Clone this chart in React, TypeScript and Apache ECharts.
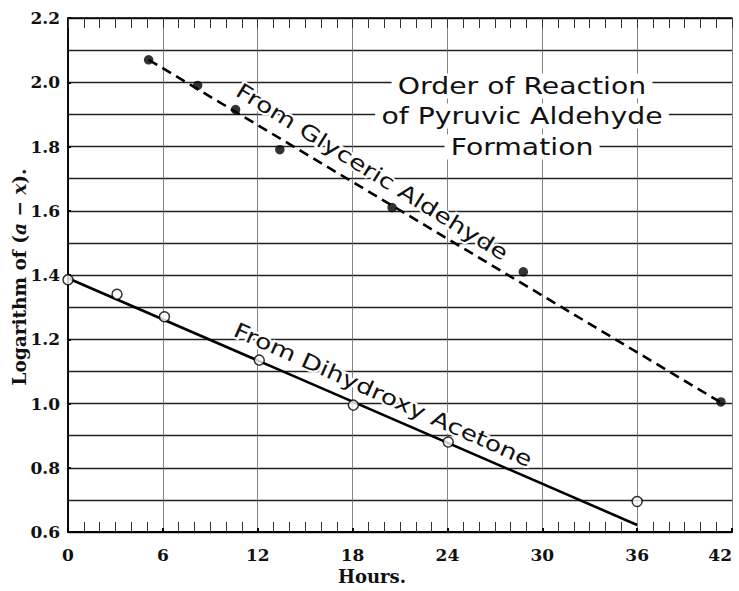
import React, { useEffect, useRef } from "react";
import * as echarts from "echarts";

const xTicks = [0, 6, 12, 18, 24, 30, 36, 42];
const yTicks = [0.6, 0.8, 1.0, 1.2, 1.4, 1.6, 1.8, 2.0, 2.2];

const glycericHours = [5.1, 8.2, 10.6, 13.4, 20.5, 28.8, 41.3];
const glycericLog = [2.07, 1.99, 1.915, 1.79, 1.61, 1.41, 1.005];
const glycericFitHours = [5.1, 41.3];
const glycericFitLog = [2.07, 1.003];

const dihydroxyHours = [0, 3.1, 6.1, 12.1, 18.05, 24.05, 36.0];
const dihydroxyLog = [1.385, 1.34, 1.27, 1.135, 0.995, 0.88, 0.695];
const dihydroxyFitHours = [0, 36];
const dihydroxyFitLog = [1.39, 0.622];

const titleLines = ["Order of Reaction", "of Pyruvic Aldehyde", "Formation"];
const glycericLabel = "From Glyceric Aldehyde";
const dihydroxyLabel = "From Dihydroxy Acetone";

const zip = (a: number[], b: number[]) => a.map((v, i) => [v, b[i]]);

export default function App() {
  const ref = useRef<HTMLDivElement>(null);
  useEffect(() => {
    if (!ref.current) return;
    const chart = echarts.init(ref.current, undefined, { renderer: "svg" });
    const serif = "DejaVu Serif";
    const letter = "DejaVu Sans";
    const titleStyle = (text: string) => ({
      text,
      fill: "#111",
      font: `23px "${letter}"`,
      align: "center",
      verticalAlign: "middle",
      backgroundColor: "#fff",
      padding: [1, 5, 1, 5],
    });
    chart.setOption({
      animation: false,
      backgroundColor: "#fff",
      grid: { left: 68, right: 7, top: 18, bottom: 59, outerBoundsMode: "none", containLabel: false },
      xAxis: [
        {
          type: "value",
          min: 0,
          max: 42,
          interval: 6,
          axisLine: { show: true, lineStyle: { color: "#000", width: 2 } },
          axisTick: { show: true, inside: true, length: 4, lineStyle: { color: "#000", width: 2 } },
          minorTick: { show: true, splitNumber: 6, length: 10, lineStyle: { color: "#333", width: 1 } },
          axisLabel: {
            margin: 14,
            fontFamily: serif,
            fontSize: 17,
            fontWeight: "bold",
            color: "#111",
            alignMaxLabel: "right",
            formatter: (v: number) => (xTicks.includes(v) ? String(v) : ""),
          },
          splitLine: { show: true, lineStyle: { color: "#666", width: 0.8 } },
        },
        {
          type: "value",
          position: "top",
          min: 0,
          max: 42,
          interval: 6,
          axisLine: { show: true, lineStyle: { color: "#000", width: 1.5 } },
          axisTick: { show: true, inside: true, length: 10, lineStyle: { color: "#333", width: 1 } },
          minorTick: { show: true, splitNumber: 6, length: 10, lineStyle: { color: "#333", width: 1 } },
          axisLabel: { show: false },
          splitLine: { show: false },
        },
      ],
      yAxis: [
        {
          type: "value",
          min: 0.6,
          max: 2.2,
          interval: 0.2,
          axisLine: { show: true, lineStyle: { color: "#000", width: 1.5 } },
          axisTick: { show: true, inside: true, length: 3, lineStyle: { color: "#000", width: 2 } },
          minorTick: { show: false, splitNumber: 2 },
          axisLabel: {
            margin: 8,
            fontFamily: serif,
            fontSize: 17,
            fontWeight: "bold",
            color: "#111",
            formatter: (v: number) => {
              const t = yTicks.find((y) => Math.abs(y - v) < 1e-6);
              return t === undefined ? "" : t.toFixed(1);
            },
          },
          splitLine: { show: true, lineStyle: { color: "#222", width: 1.3 } },
          minorSplitLine: { show: true, lineStyle: { color: "#222", width: 1.3 } },
        },
        {
          type: "value",
          position: "right",
          min: 0.6,
          max: 2.2,
          interval: 0.2,
          axisLine: { show: true, lineStyle: { color: "#000", width: 1.5 } },
          axisTick: { show: false },
          axisLabel: { show: false },
          splitLine: { show: false },
        },
      ],
      series: [
        {
          type: "line",
          data: zip(glycericFitHours, glycericFitLog),
          showSymbol: false,
          symbol: "none",
          lineStyle: { color: "#000", width: 2.6, type: [10, 6] },
          z: 3,
        },
        {
          type: "line",
          data: zip(dihydroxyFitHours, dihydroxyFitLog),
          showSymbol: false,
          symbol: "none",
          lineStyle: { color: "#000", width: 2.6 },
          z: 3,
        },
        {
          type: "scatter",
          data: zip(glycericHours, glycericLog),
          symbol: "circle",
          symbolSize: 9.5,
          itemStyle: { color: "#000" },
          z: 5,
        },
        {
          type: "scatter",
          data: zip(dihydroxyHours, dihydroxyLog),
          symbol: "circle",
          symbolSize: 10,
          itemStyle: { color: "#fff", borderColor: "#000", borderWidth: 1.5 },
          z: 5,
        },
      ],
      graphic: [
        { type: "text", x: 522, y: 86, scaleX: 1.23, style: titleStyle(titleLines[0]), z: 10 },
        { type: "text", x: 522, y: 116, scaleX: 1.23, style: titleStyle(titleLines[1]), z: 10 },
        { type: "text", x: 522, y: 147, scaleX: 1.23, style: titleStyle(titleLines[2]), z: 10 },
        {
          type: "text",
          x: 372,
          y: 172,
          rotation: (-31.8 * Math.PI) / 180,
          scaleX: 1.27,
          style: {
            text: glycericLabel,
            fill: "#111",
            font: `21px "${letter}"`,
            align: "center",
            verticalAlign: "middle",
            stroke: "#fff",
            lineWidth: 4,
          },
          z: 10,
        },
        {
          type: "text",
          x: 383,
          y: 395,
          rotation: (-24 * Math.PI) / 180,
          scaleX: 1.26,
          style: {
            text: dihydroxyLabel,
            fill: "#111",
            font: `21px "${letter}"`,
            align: "center",
            verticalAlign: "middle",
            stroke: "#fff",
            lineWidth: 4,
          },
          z: 10,
        },
        {
          type: "text",
          x: 19,
          y: 277,
          rotation: Math.PI / 2,
          style: {
            text: "{n|Logarithm of (}{i|a − x}{n|).}",
            align: "center",
            verticalAlign: "middle",
            rich: {
              n: { fontFamily: serif, fontSize: 18.5, fontWeight: "bold", fill: "#111" },
              i: { fontFamily: serif, fontSize: 18.5, fontStyle: "italic", fontWeight: "bold", fill: "#111" },
            },
          },
        },
        {
          type: "text",
          x: 372,
          y: 576,
          style: {
            text: "Hours.",
            fill: "#111",
            font: `bold 18px "${serif}"`,
            align: "center",
            verticalAlign: "middle",
          },
        },
      ],
    });
    return () => chart.dispose();
  }, []);
  return <div ref={ref} style={{ width: 739, height: 591, position: "absolute", left: 0, top: 0 }} />;
}
